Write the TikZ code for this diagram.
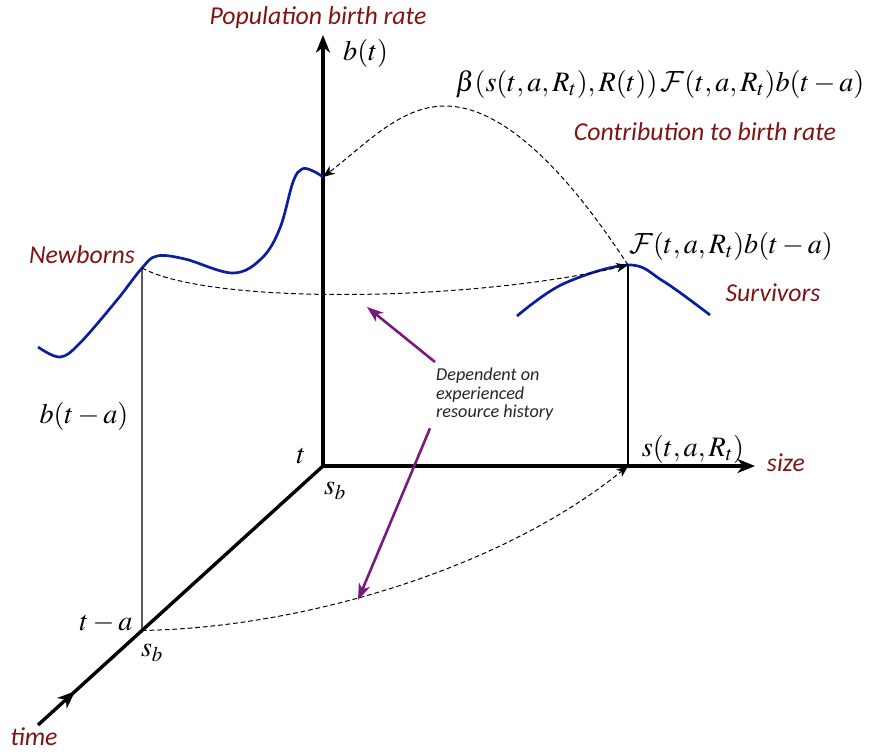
\documentclass[tikz,border=0pt]{standalone}
\usepackage{mathptmx}
\usepackage{fontspec}
\usetikzlibrary{arrows.meta,decorations.markings,calc}
\newfontfamily\lblfont{Carlito}
\DeclareMathAlphabet{\cmcal}{OMS}{cmsy}{m}{n}
\definecolor{lblred}{RGB}{128,20,20}
\definecolor{curveblue}{RGB}{12,30,160}
\definecolor{notepurple}{RGB}{120,25,125}

\begin{document}
\begin{tikzpicture}[
  x=0.03cm, y=-0.03cm,
  axis/.style={line width=2.9pt,-{Stealth[length=15pt,width=12pt,inset=4.5pt]}},
  guide/.style={line width=1pt},
  birth/.style={curveblue,line width=2.3pt},
  flow/.style={dash pattern=on 4pt off 2.5pt,line width=0.85pt,
               -{Stealth[length=10pt,width=8pt,inset=3pt]}},
  note/.style={notepurple,line width=2.2pt,-{Stealth[length=14pt,width=10pt,inset=4pt]}},
  lbl/.style={text=lblred,font=\lblfont\itshape\fontsize{22}{26}\selectfont,inner sep=0pt},
  mth/.style={font=\fontsize{24}{28}\selectfont,inner sep=0pt}
]
\useasboundingbox (0,0) rectangle (872,753);

% axes
\coordinate (O) at (323,466);
\coordinate (btop) at (323,35);
\coordinate (send) at (755,466);
\coordinate (tend) at (38,725);
\coordinate (ta) at ($(tend)!0.365!(O)$);
\coordinate (sR) at (628,466);
\coordinate (nb) at (142,268);
\coordinate (sv) at (628,265);
\coordinate (bt) at (323,177);

\draw[axis] (O) -- (btop);
\draw[axis] (O) -- (send);
\draw[line width=2.9pt,postaction={decorate},
  decoration={markings,mark=at position 0.13 with {\arrow{Stealth[length=15pt,width=12pt,inset=4.5pt]}}}]
  (tend) -- (O);

% cohort lines
\draw[guide] (ta) -- (nb);
\draw[guide] (sR) -- (sv);

% birth rate and survivors
\draw[birth] plot[smooth,tension=0.6] coordinates {(38,347) (60,357) (80,343) (117,300) (nb)
  (157,256) (185,259) (233,273) (262,258) (280,228) (293,182) (302,169) (313,171) (bt)};
\draw[birth] plot[smooth,tension=0.6] coordinates {(517,316) (563,284) (sv) (663,281) (710,315)};

% flows
\draw[flow] (nb) .. controls (210,305) and (470,302) .. (sv);
\draw[flow] (sv) .. controls (595,215) and (520,106) .. (445,106)
                 .. controls (400,106) and (365,145) .. (bt);
\draw[flow] (ta) .. controls (300,628) and (500,570) .. (sR);

% note on resource history
\node[anchor=north west,inner sep=0pt,align=left,text=black!85,
  font=\lblfont\itshape\fontsize{15.5}{15.5}\selectfont] (dep) at (436,368)
  {Dependent on\\experienced\\resource history};
\coordinate (tipA) at (367,307);
\coordinate (tipB) at (358,600);
\draw[note] ($(dep.north west)+(-1,-6)$) -- (tipA);
\draw[note] ($(dep.south west)+(-6,8)$) -- (tipB);

% labels
\node[lbl] (lpop) at (318,18) {Population birth rate};
\node[mth,anchor=west] (lbt) at (343,53) {$b(t)$};
\node[mth] (lbeta) at (660,84) {$\beta(s(t,a,R_t),R(t))\,\cmcal{F}(t,a,R_t)b(t-a)$};
\node[lbl] (lcon) at (705,132) {Contribution to birth rate};
\node[mth] (lsurv) at (731,246) {$\cmcal{F}(t,a,R_t)b(t-a)$};
\node[lbl] (lsv) at (773,293) {Survivors};
\node[lbl] (lnb) at (82,255) {Newborns};
\node[mth] (lbta) at (84,416) {$b(t-a)$};
\node[mth] (lt) at (301,456) {$t$};
\node[mth] (lsb) at (335,491) {$s_b$};
\node[mth] (lta) at (106,623) {$t-a$};
\node[mth] (lsb2) at (152,653) {$s_b$};
\node[mth] (lsize) at (693,449) {$s(t,a,R_t)$};
\node[lbl] (lsz) at (786,463) {size};
\node[lbl] (ltime) at (34,737) {time};
\end{tikzpicture}
\end{document}
